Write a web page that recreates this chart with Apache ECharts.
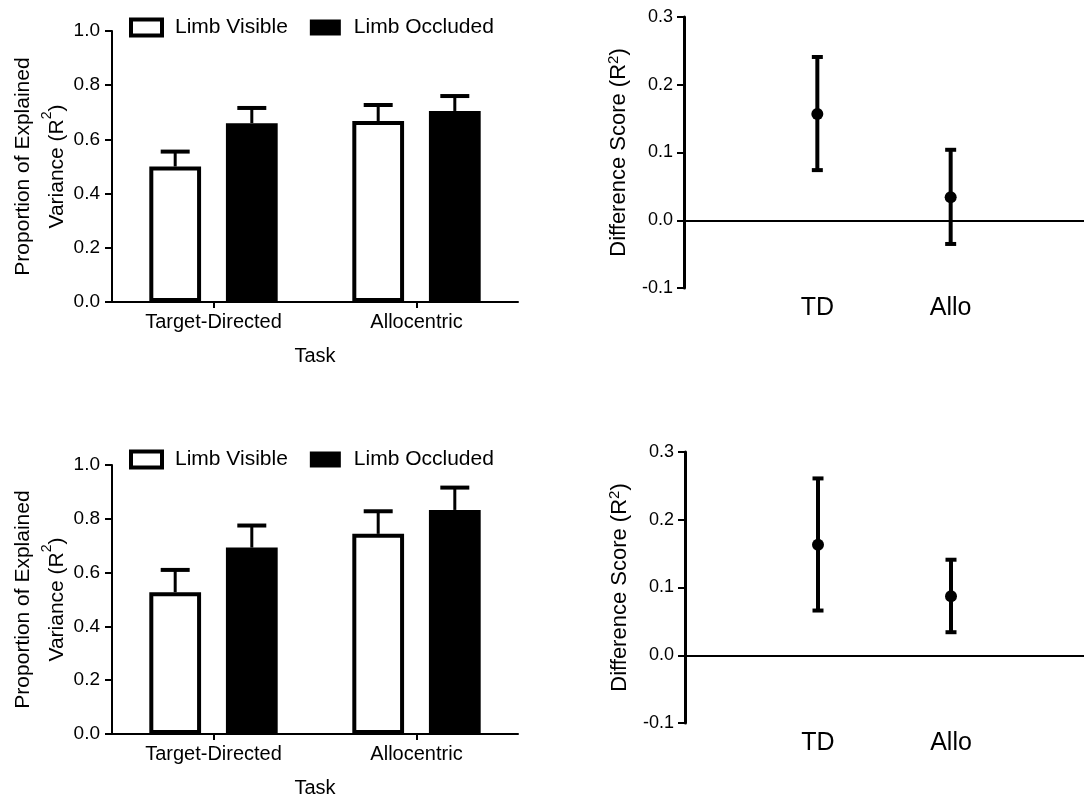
<!DOCTYPE html>
<html>
<head>
<meta charset="utf-8">
<script src="https://cdn.jsdelivr.net/npm/echarts@6/dist/echarts.min.js"></script>
<style>
html,body{margin:0;padding:0;background:#fff;}
#chart{width:1087px;height:799px;}
</style>
</head>
<body>
<div id="chart"></div>
<script>
// ---- data ----
const tasks = ['Target-Directed', 'Allocentric'];
const seriesNames = ['Limb Visible', 'Limb Occluded'];
// top panel (bar means and SEM)
const topVisibleMean = [0.500, 0.668];
const topVisibleSem = [0.055, 0.059];
const topOccludedMean = [0.660, 0.705];
const topOccludedSem = [0.056, 0.055];
// bottom panel
const botVisibleMean = [0.527, 0.744];
const botVisibleSem = [0.083, 0.084];
const botOccludedMean = [0.693, 0.833];
const botOccludedSem = [0.082, 0.083];
// difference scores
const diffCats = ['TD', 'Allo'];
const topDiffMean = [0.157, 0.034];
const topDiffLow = [0.074, -0.035];
const topDiffHigh = [0.241, 0.104];
const botDiffMean = [0.163, 0.087];
const botDiffLow = [0.066, 0.034];
const botDiffHigh = [0.261, 0.141];

// ---- styles ----
const FONT = 'Liberation Sans, Arial, sans-serif';
const BAR_FRAC = 0.255, BAR_GAP = 0.48;

const chart = echarts.init(document.getElementById('chart'), null, {renderer: 'canvas'});

function barErr(sign) {
  return function (params, api) {
    const i = api.value(0), m = api.value(1), e = api.value(2);
    const band = api.size([1, 0])[0];
    const bw = band * BAR_FRAC;
    const off = sign * bw * (1 + BAR_GAP) / 2;
    const p0 = api.coord([i, m]);
    const p1 = api.coord([i, m + e]);
    const cx = p0[0] + off;
    const cap = bw * 0.56;
    return {
      type: 'group',
      children: [
        {type: 'line', shape: {x1: cx, y1: p0[1], x2: cx, y2: p1[1]}, style: {stroke: '#000', lineWidth: 3}},
        {type: 'line', shape: {x1: cx - cap / 2, y1: p1[1], x2: cx + cap / 2, y2: p1[1]}, style: {stroke: '#000', lineWidth: 4}}
      ]
    };
  };
}

function diffErr(params, api) {
  const x = api.value(0), lo = api.value(1), hi = api.value(2);
  const a = api.coord([x, lo]), b = api.coord([x, hi]);
  const cap = 11;
  return {
    type: 'group',
    children: [
      {type: 'line', shape: {x1: a[0], y1: a[1], x2: b[0], y2: b[1]}, style: {stroke: '#000', lineWidth: 4}},
      {type: 'line', shape: {x1: a[0] - cap / 2, y1: a[1], x2: a[0] + cap / 2, y2: a[1]}, style: {stroke: '#000', lineWidth: 4}},
      {type: 'line', shape: {x1: b[0] - cap / 2, y1: b[1], x2: b[0] + cap / 2, y2: b[1]}, style: {stroke: '#000', lineWidth: 4}}
    ]
  };
}

function barYAxis(gi) {
  return {
    type: 'value', gridIndex: gi, min: 0, max: 1, interval: 0.2,
    axisLine: {show: true, lineStyle: {color: '#000', width: 2}},
    axisTick: {show: true, length: 7, lineStyle: {color: '#000', width: 2}},
    axisLabel: {color: '#000', fontSize: 19, fontFamily: FONT, margin: 12, formatter: v => v.toFixed(1)},
    splitLine: {show: false},
    name: '{a|Proportion of Explained}\n{a|Variance (R}{s|2}{a|)}',
    nameLocation: 'middle', nameRotate: 90, nameGap: 38, nameMoveOverlap: false,
    nameTextStyle: {
      color: '#000', fontFamily: FONT, lineHeight: 34,
      rich: {
        a: {fontSize: 21, fontFamily: FONT, color: '#000', lineHeight: 34},
        s: {fontSize: 14, fontFamily: FONT, color: '#000', verticalAlign: 'top', lineHeight: 34, padding: [0, 0, 3, 0]}
      }
    }
  };
}
function barXAxis(gi) {
  return {
    type: 'category', gridIndex: gi, data: tasks,
    axisLine: {show: true, lineStyle: {color: '#000', width: 2}},
    axisTick: {show: true, alignWithLabel: true, length: 6, lineStyle: {color: '#000', width: 2}},
    axisLabel: {color: '#000', fontSize: 20, fontFamily: FONT, margin: 10},
    name: 'Task', nameLocation: 'middle', nameGap: 44, nameMoveOverlap: false,
    nameTextStyle: {color: '#000', fontSize: 20, fontFamily: FONT}
  };
}
function diffYAxis(gi) {
  return {
    type: 'value', gridIndex: gi, min: -0.1, max: 0.3, interval: 0.1,
    axisLine: {show: true, onZero: false, lineStyle: {color: '#000', width: 3}},
    axisTick: {show: true, length: 7, lineStyle: {color: '#000', width: 2}},
    axisLabel: {color: '#000', fontSize: 18, fontFamily: FONT, margin: 11, formatter: v => v.toFixed(1)},
    splitLine: {show: false},
    name: '{a|Difference Score (R}{s|2}{a|)}',
    nameLocation: 'middle', nameRotate: 90, nameGap: 52, nameMoveOverlap: false,
    nameTextStyle: {
      color: '#000', fontFamily: FONT,
      rich: {
        a: {fontSize: 22, fontFamily: FONT, color: '#000', lineHeight: 26},
        s: {fontSize: 15, fontFamily: FONT, color: '#000', verticalAlign: 'top', lineHeight: 26, padding: [0, 0, 3, 0]}
      }
    }
  };
}
function diffXAxis(gi) {
  return {
    type: 'value', gridIndex: gi, min: 0, max: diffCats.length + 1, interval: 1,
    axisLine: {show: false, onZero: false},
    axisTick: {show: false},
    splitLine: {show: false},
    axisLabel: {color: '#000', fontSize: 25, fontFamily: FONT, margin: 8,
      formatter: v => diffCats[v - 1] || ''}
  };
}

function barSeries(name, gi, data, fill) {
  return {
    type: 'bar', name: name, xAxisIndex: gi, yAxisIndex: gi, data: data,
    barWidth: (BAR_FRAC * 100) + '%', barGap: (BAR_GAP * 100) + '%',
    itemStyle: {color: fill, borderColor: '#000', borderWidth: 4},
    z: 3
  };
}
function errSeries(gi, mean, sem, sign) {
  return {
    type: 'custom', xAxisIndex: gi, yAxisIndex: gi, renderItem: barErr(sign),
    data: mean.map((m, i) => [i, m, sem[i]]), encode: {x: 0, y: 1}, z: 2, silent: true
  };
}
function diffSeries(gi, mean, lo, hi) {
  return [
    {
      type: 'custom', xAxisIndex: gi, yAxisIndex: gi, renderItem: diffErr,
      data: mean.map((m, i) => [i + 1, lo[i], hi[i]]), encode: {x: 0, y: [1, 2]}, z: 3, silent: true
    },
    {
      type: 'scatter', xAxisIndex: gi, yAxisIndex: gi, symbol: 'circle', symbolSize: 12,
      itemStyle: {color: '#000', opacity: 1}, z: 4, silent: true,
      data: mean.map((m, i) => [i + 1, m]),
      markLine: {
        silent: true, symbol: 'none', label: {show: false},
        lineStyle: {color: '#000', width: 2, type: 'solid'},
        data: [{yAxis: 0}]
      }
    }
  ];
}

function legendAt(top) {
  return {
    top: top, left: 124, itemWidth: 31, itemHeight: 16, itemGap: 22,
    icon: 'rect', selectedMode: false,
    textStyle: {color: '#000', fontSize: 21, fontFamily: FONT, padding: [0, 0, 0, 8]},
    data: [
      {name: seriesNames[0], itemStyle: {color: '#fff', borderColor: '#000', borderWidth: 4}},
      {name: seriesNames[1], itemStyle: {color: '#000', borderColor: '#000', borderWidth: 0}}
    ]
  };
}

const option = {
  animation: false,
  backgroundColor: '#fff',
  textStyle: {fontFamily: FONT, color: '#000'},
  legend: [legendAt(12), legendAt(444)],
  grid: [
    {left: 112, top: 31, width: 406, height: 271},
    {left: 684, top: 17, width: 403, height: 271},
    {left: 112, top: 465, width: 406, height: 271},
    {left: 685, top: 452, width: 402, height: 271}
  ],
  xAxis: [barXAxis(0), diffXAxis(1), barXAxis(2), diffXAxis(3)],
  yAxis: [barYAxis(0), diffYAxis(1), barYAxis(2), diffYAxis(3)],
  series: [
    barSeries(seriesNames[0], 0, topVisibleMean, '#fff'),
    barSeries(seriesNames[1], 0, topOccludedMean, '#000'),
    errSeries(0, topVisibleMean, topVisibleSem, -1),
    errSeries(0, topOccludedMean, topOccludedSem, 1),
    ...diffSeries(1, topDiffMean, topDiffLow, topDiffHigh),
    barSeries(seriesNames[0], 2, botVisibleMean, '#fff'),
    barSeries(seriesNames[1], 2, botOccludedMean, '#000'),
    errSeries(2, botVisibleMean, botVisibleSem, -1),
    errSeries(2, botOccludedMean, botOccludedSem, 1),
    ...diffSeries(3, botDiffMean, botDiffLow, botDiffHigh)
  ]
};
chart.setOption(option);
</script>
</body>
</html>
